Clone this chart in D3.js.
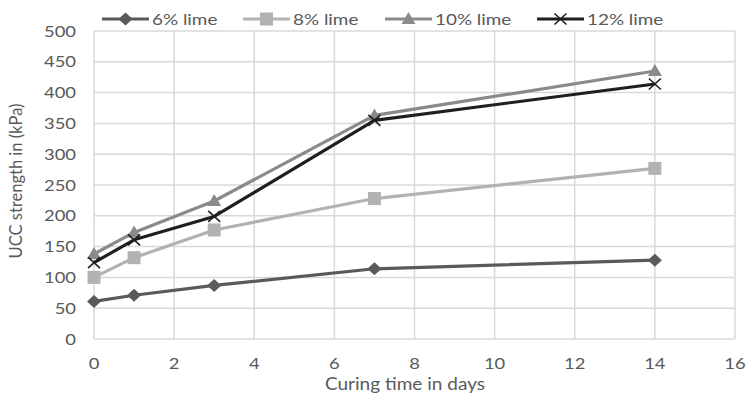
<!DOCTYPE html>
<html>
<head>
<meta charset="utf-8">
<script src="https://cdn.jsdelivr.net/npm/d3@7"></script>
<style>
  body { margin: 0; background: #fff; }
  svg { display: block; font-family: Lato, "Noto Sans", sans-serif; }
</style>
</head>
<body>
<svg width="749" height="396"></svg>
<script>
const days = [0, 1, 3, 7, 14];
const lime6 = [61, 71, 87, 114, 128];
const lime8 = [100, 132, 177, 228, 277];
const lime10 = [138, 173, 224, 363, 435];
const lime12 = [124, 161, 199, 355, 414];
const seriesNames = ["6% lime", "8% lime", "10% lime", "12% lime"];
const xTicks = [0, 2, 4, 6, 8, 10, 12, 14, 16];
const yTicks = [0, 50, 100, 150, 200, 250, 300, 350, 400, 450, 500];

const svg = d3.select("svg");
const margin = { left: 94, right: 14, top: 31, bottom: 57 };
const width = 749, height = 396;

const x = d3.scaleLinear().domain([0, 16]).range([margin.left, width - margin.right]);
const y = d3.scaleLinear().domain([0, 500]).range([height - margin.bottom, margin.top]);

const textColor = "#595959";
const gridColor = "#d9d9d9";

// text in the reference is a bit stretched sideways
function hText(parent, tx, ty, str, size, anchor, sx) {
  return parent.append("text")
    .attr("transform", `translate(${tx},${ty}) scale(${sx},1)`)
    .attr("dy", "0.35em")
    .attr("text-anchor", anchor)
    .attr("fill", textColor)
    .attr("font-size", size)
    .text(str);
}

// --- GRID ---
svg.append("g").selectAll("line")
  .data(yTicks).enter().append("line")
  .attr("x1", x(0)).attr("x2", x(16))
  .attr("y1", d => y(d)).attr("y2", d => y(d))
  .attr("stroke", gridColor).attr("stroke-width", 1.5);

svg.append("g").selectAll("line")
  .data(xTicks).enter().append("line")
  .attr("x1", d => x(d)).attr("x2", d => x(d))
  .attr("y1", y(0)).attr("y2", y(500))
  .attr("stroke", gridColor).attr("stroke-width", 1.5);

// --- TICK LABELS ---
const yLab = svg.append("g");
yTicks.forEach(d => hText(yLab, 76, y(d), d, 16, "end", 1.15));

const xLab = svg.append("g");
xTicks.forEach(d => hText(xLab, x(d), 363, d, 16, "middle", 1.15));

// --- AXIS TITLES ---
hText(svg, 405, 384, "Curing time in days", 17, "middle", 1.12);

svg.append("text")
  .attr("transform", "translate(16,181) rotate(-90)")
  .attr("dy", "0.35em")
  .attr("text-anchor", "middle")
  .attr("fill", textColor).attr("font-size", 16.5)
  .text("UCC strength in (kPa)");

// --- SERIES ---
const series = [
  { name: seriesNames[0], values: lime6, color: "#5a5a5a", shape: "diamond" },
  { name: seriesNames[1], values: lime8, color: "#b2b2b2", shape: "square" },
  { name: seriesNames[2], values: lime10, color: "#8a8a8a", shape: "triangle" },
  { name: seriesNames[3], values: lime12, color: "#1f1f1f", shape: "x" }
];

const line = d3.line().x(d => x(d[0])).y(d => y(d[1]));

function drawMarker(g, s, cx, cy) {
  const p = d3.path();
  if (s.shape === "x") {
    p.moveTo(cx - 6, cy - 5.5); p.lineTo(cx + 6, cy + 5.5);
    p.moveTo(cx - 6, cy + 5.5); p.lineTo(cx + 6, cy - 5.5);
    g.append("path").attr("d", p.toString())
      .attr("stroke", s.color).attr("stroke-width", 1.6).attr("fill", "none");
    return;
  }
  if (s.shape === "diamond") {
    p.moveTo(cx, cy - 6.5); p.lineTo(cx + 7, cy); p.lineTo(cx, cy + 6.5); p.lineTo(cx - 7, cy);
  } else if (s.shape === "square") {
    p.rect(cx - 6.5, cy - 6.5, 13, 13);
  } else if (s.shape === "triangle") {
    p.moveTo(cx, cy - 7); p.lineTo(cx + 7, cy + 5); p.lineTo(cx - 7, cy + 5);
  }
  p.closePath();
  g.append("path").attr("d", p.toString()).attr("fill", s.color);
}

series.forEach(s => {
  const pts = days.map((d, i) => [d, s.values[i]]);
  const g = svg.append("g");
  g.append("path")
    .datum(pts)
    .attr("d", line)
    .attr("fill", "none")
    .attr("stroke", s.color)
    .attr("stroke-width", 3.2)
    .attr("stroke-linejoin", "round");
  pts.forEach(p => drawMarker(g, s, x(p[0]), y(p[1])));
});

// --- LEGEND ---
const legendX = [102, 243, 385, 537];
series.forEach((s, i) => {
  const g = svg.append("g");
  const lx = legendX[i], ly = 19;
  g.append("line")
    .attr("x1", lx).attr("x2", lx + 47)
    .attr("y1", ly).attr("y2", ly)
    .attr("stroke", s.color).attr("stroke-width", 3.2);
  drawMarker(g, s, lx + 23.5, ly);
  hText(g, lx + 50, ly, s.name, 16, "start", 1.18);
});
</script>
</body>
</html>
